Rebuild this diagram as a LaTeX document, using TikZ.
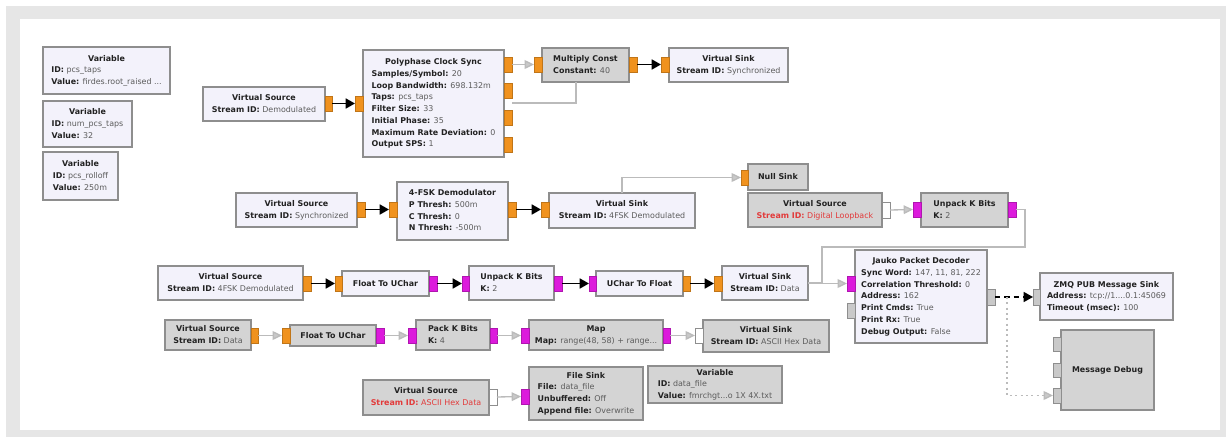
\documentclass[tikz,border=0pt]{standalone}
\usepackage{fontspec}
\setmainfont{DejaVu Sans}
\usetikzlibrary{arrows.meta}
\definecolor{frameg}{HTML}{E6E6E6}
\definecolor{bE}{HTML}{F3F2FB}
\definecolor{bD}{HTML}{D4D4D4}
\definecolor{bord}{HTML}{8E8E8E}
\definecolor{pO}{HTML}{F0921E}
\definecolor{pM}{HTML}{DC1ADC}
\definecolor{pG}{HTML}{C9C9C9}
\definecolor{valc}{HTML}{5C5C5C}
\definecolor{redc}{HTML}{E23A3A}
\definecolor{glc}{HTML}{BBBBBB}
\definecolor{txt}{HTML}{222222}
\newcommand\kv[2]{\textbf{#1:} {\color{valc}#2}}
\newcommand\rkv[2]{{\color{redc}\textbf{#1:} #2}}
\newcommand\bt[2]{\begin{tabular}{@{}l@{}}\multicolumn{1}{@{}c@{}}{\textbf{#1}}\\#2\end{tabular}}
\newcommand\blk[7]{\node[#6, minimum width={(#4-(#2))*0.75pt}, minimum height={(#5-(#3))*0.75pt}] (#1) at ({(#2+#4)/2},{(#3+#5)/2}) {#7};}
\newcommand\prt[6]{\node[#6, minimum width={(#4-(#2))*0.75pt}, minimum height={(#5-(#3))*0.75pt}] (#1) at ({(#2+#4)/2},{(#3+#5)/2}) {};}
\begin{document}
\begin{tikzpicture}[x=0.75pt,y=-0.75pt,
  font=\fontsize{5.95}{8.8}\selectfont\color{txt},
  blockE/.style={draw=bord, fill=bE, line width=0.8pt, inner sep=0pt, outer sep=0pt},
  blockD/.style={draw=bord, fill=bD, line width=0.8pt, inner sep=0pt, outer sep=0pt},
  portO/.style={draw=pO!80!black, fill=pO, line width=0.4pt, inner sep=0pt, outer sep=0pt},
  portM/.style={draw=pM!80!black, fill=pM, line width=0.4pt, inner sep=0pt, outer sep=0pt},
  portG/.style={draw=bord, fill=pG, line width=0.6pt, inner sep=0pt, outer sep=0pt},
  portW/.style={draw=bord, fill=white, line width=0.6pt, inner sep=0pt, outer sep=0pt},
  bconn/.style={draw=black, line width=1.3pt, -{Triangle[length=7pt,width=7.5pt]}},
  gconn/.style={draw=glc, line width=1pt, -{Triangle[length=7pt,width=6.5pt,fill=glc!80!white]}},
  gline/.style={draw=glc, line width=0.9pt},
]
\useasboundingbox (0,0) rectangle (1229,439);
\fill[frameg] (6,6) rectangle (1226,437);
\fill[white] (20,19) rectangle (1220,430);

% ---- variables
\blk{var1}{43}{47}{170}{94}{blockE}{\bt{Variable}{\kv{ID}{pcs\_taps}\\\kv{Value}{firdes.root\_raised ...}}}
\blk{var2}{43}{101}{132}{147}{blockE}{\bt{Variable}{\kv{ID}{num\_pcs\_taps}\\\kv{Value}{32}}}
\blk{var3}{43}{152}{118}{200}{blockE}{\bt{Variable}{\kv{ID}{pcs\_rolloff}\\\kv{Value}{250m}}}

% ---- row 1
\blk{vsrc1}{203}{87}{325}{121}{blockE}{\bt{Virtual Source}{\kv{Stream ID}{Demodulated}}}
\prt{vsrc1o}{325}{96}{332}{111}{portO}
\blk{pcs}{363}{50}{504}{157}{blockE}{\bt{Polyphase Clock Sync}{\kv{Samples/Symbol}{20}\\\kv{Loop Bandwidth}{698.132m}\\\kv{Taps}{pcs\_taps}\\\kv{Filter Size}{33}\\\kv{Initial Phase}{35}\\\kv{Maximum Rate Deviation}{0}\\\kv{Output SPS}{1}}}
\prt{pcsi}{355}{96}{363}{111}{portO}
\prt{pcso1}{504}{57}{512}{72}{portO}
\prt{pcso2}{504}{83}{512}{98}{portO}
\prt{pcso3}{504}{110}{512}{125}{portO}
\prt{pcso4}{504}{137}{512}{152}{portO}
\blk{mult}{542}{48}{629}{82}{blockD}{\bt{Multiply Const}{\kv{Constant}{40}}}
\prt{multi}{534}{57}{542}{72}{portO}
\prt{multo}{629}{57}{637}{72}{portO}
\blk{vsink1}{669}{48}{788}{82}{blockE}{\bt{Virtual Sink}{\kv{Stream ID}{Synchronized}}}
\prt{vsink1i}{661}{57}{669}{72}{portO}
\draw[bconn] (vsrc1o.east) -- (pcsi.west);
\draw[gconn] (pcso1.east) -- (multi.west);
\draw[bconn] (multo.east) -- (vsink1i.west);
\coordinate (pc1) at (512,103);
\coordinate (pc2) at (576,82);
\draw[gline] (pc1) -| (pc2);

% ---- row 2
\blk{vsrc2}{236}{193}{357}{227}{blockE}{\bt{Virtual Source}{\kv{Stream ID}{Synchronized}}}
\prt{vsrc2o}{357}{202}{365}{217}{portO}
\blk{fsk}{397}{182}{508}{240}{blockE}{\bt{4-FSK Demodulator}{\kv{P Thresh}{500m}\\\kv{C Thresh}{0}\\\kv{N Thresh}{-500m}}}
\prt{fski}{389}{202}{397}{217}{portO}
\prt{fsko}{508}{202}{516}{217}{portO}
\blk{vsink2}{549}{193}{695}{228}{blockE}{\bt{Virtual Sink}{\kv{Stream ID}{4FSK Demodulated}}}
\prt{vsink2i}{541}{202}{549}{217}{portO}
\draw[bconn] (vsrc2o.east) -- (fski.west);
\draw[bconn] (fsko.east) -- (vsink2i.west);
\blk{null}{748}{164}{808}{190}{blockD}{\textbf{Null Sink}}
\prt{nulli}{741}{170}{748}{185}{portO}
\coordinate (n1) at (622,193);
\draw[gconn] (n1) |- (nulli.west);
\blk{vsrc3}{748}{193}{882}{227}{blockD}{\bt{Virtual Source}{\rkv{Stream ID}{Digital Loopback}}}
\prt{vsrc3o}{882}{202}{890}{218}{portW}
\blk{unp1}{921}{193}{1008}{227}{blockD}{\bt{Unpack K Bits}{\kv{K}{2}}}
\prt{unp1i}{913}{202}{921}{217}{portM}
\prt{unp1o}{1008}{202}{1016}{217}{portM}
\draw[gconn] (vsrc3o.east) -- (unp1i.west);

% ---- row 3
\blk{vsrc4}{158}{266}{303}{300}{blockE}{\bt{Virtual Source}{\kv{Stream ID}{4FSK Demodulated}}}
\prt{vsrc4o}{303}{276}{311}{291}{portO}
\blk{f2uc1}{342}{271}{429}{296}{blockE}{\textbf{Float To UChar}}
\prt{f2uc1i}{335}{276}{342}{291}{portO}
\prt{f2uc1o}{429}{276}{437}{291}{portM}
\blk{unp2}{469}{266}{554}{300}{blockE}{\bt{Unpack K Bits}{\kv{K}{2}}}
\prt{unp2i}{462}{276}{469}{291}{portM}
\prt{unp2o}{554}{276}{562}{291}{portM}
\blk{uc2f}{596}{271}{683}{296}{blockE}{\textbf{UChar To Float}}
\prt{uc2fi}{589}{276}{596}{291}{portM}
\prt{uc2fo}{683}{276}{690}{291}{portO}
\blk{vsink3}{722}{266}{808}{300}{blockE}{\bt{Virtual Sink}{\kv{Stream ID}{Data}}}
\prt{vsink3i}{714}{276}{722}{291}{portO}
\draw[bconn] (vsrc4o.east) -- (f2uc1i.west);
\draw[bconn] (f2uc1o.east) -- (unp2i.west);
\draw[bconn] (unp2o.east) -- (uc2fi.west);
\draw[bconn] (uc2fo.east) -- (vsink3i.west);

\blk{jau}{855}{250}{987}{343}{blockE}{\bt{Jauko Packet Decoder}{\kv{Sync Word}{147, 11, 81, 222}\\\kv{Correlation Threshold}{0}\\\kv{Address}{162}\\\kv{Print Cmds}{True}\\\kv{Print Rx}{True}\\\kv{Debug Output}{False}}}
\prt{jaui1}{847}{276}{855}{291}{portM}
\prt{jaui2}{847}{303}{855}{318}{portG}
\prt{jauo}{987}{289}{995}{305}{portG}
\coordinate (k1) at (1025,247);
\coordinate (k2) at (822,247);
\draw[gconn] (unp1o.east) -| (k1) -- (k2) |- (jaui1.west);
\draw[gline] (vsink3.east) -- (k2 |- vsink3.east);

\blk{zmq}{1040}{273}{1173}{320}{blockE}{\bt{ZMQ PUB Message Sink}{\kv{Address}{tcp://1....0.1:45069}\\\kv{Timeout (msec)}{100}}}
\prt{zmqi}{1033}{289}{1040}{305}{portG}
\draw[draw=black, line width=1.1pt, dash pattern=on 4pt off 3pt, -{Triangle[length=7pt,width=7.5pt]}] (jauo.east) -- (zmqi.west);

\blk{mdbg}{1061}{330}{1154}{410}{blockD}{\textbf{Message Debug}}
\prt{mdbg1}{1053}{337}{1061}{351}{portG}
\prt{mdbg2}{1053}{363}{1061}{377}{portG}
\prt{mdbg3}{1053}{388}{1061}{403}{portG}
\coordinate (d1) at (1007,297);
\draw[gconn, dash pattern=on 1.5pt off 2.5pt] (d1) |- (mdbg3.west);

% ---- row 4
\blk{vsrc5}{165}{320}{251}{350}{blockD}{\bt{Virtual Source}{\kv{Stream ID}{Data}}}
\prt{vsrc5o}{251}{328}{258}{343}{portO}
\blk{f2uc2}{290}{325}{376}{346}{blockD}{\textbf{Float To UChar}}
\prt{f2uc2i}{282}{328}{290}{343}{portO}
\prt{f2uc2o}{376}{328}{384}{343}{portM}
\blk{pack}{416}{320}{490}{350}{blockD}{\bt{Pack K Bits}{\kv{K}{4}}}
\prt{packi}{408}{328}{416}{343}{portM}
\prt{packo}{490}{328}{497}{343}{portM}
\blk{map}{529}{320}{663}{350}{blockD}{\bt{Map}{\kv{Map}{range(48, 58) + range...}}}
\prt{mapi}{521}{328}{529}{343}{portM}
\prt{mapo}{663}{328}{670}{343}{portM}
\blk{vsink4}{703}{320}{829}{352}{blockD}{\bt{Virtual Sink}{\kv{Stream ID}{ASCII Hex Data}}}
\prt{vsink4i}{695}{328}{703}{343}{portW}
\draw[gconn] (vsrc5o.east) -- (f2uc2i.west);
\draw[gconn] (f2uc2o.east) -- (packi.west);
\draw[gconn] (packo.east) -- (mapi.west);
\draw[gconn] (mapo.east) -- (vsink4i.west);

% ---- row 5
\blk{vsrc6}{363}{380}{489}{415}{blockD}{\bt{Virtual Source}{\rkv{Stream ID}{ASCII Hex Data}}}
\prt{vsrc6o}{489}{389}{497}{405}{portW}
\blk{fsink}{529}{367}{643}{420}{blockD}{\bt{File Sink}{\kv{File}{data\_file}\\\kv{Unbuffered}{Off}\\\kv{Append file}{Overwrite}}}
\prt{fsinki}{521}{389}{529}{404}{portM}
\draw[gconn] (vsrc6o.east) -- (fsinki.west);
\blk{var4}{648}{366}{782}{403}{blockD}{\bt{Variable}{\kv{ID}{data\_file}\\\kv{Value}{fmrchgt...o 1X 4X.txt}}}
\end{tikzpicture}
\end{document}
